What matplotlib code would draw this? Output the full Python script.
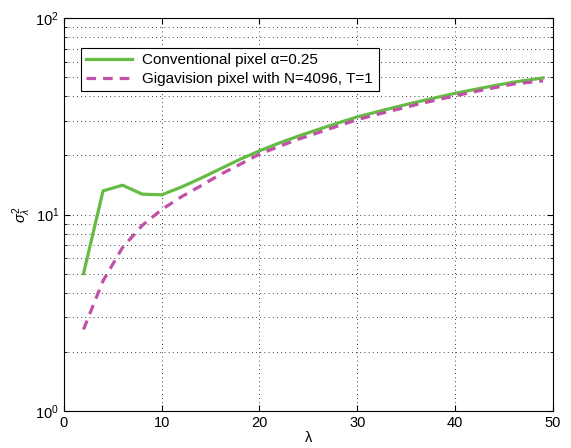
import matplotlib

matplotlib.use("Agg")
import matplotlib.pyplot as plt

plt.rcParams["font.family"] = ["Liberation Sans", "DejaVu Sans"]
plt.rcParams["mathtext.fontset"] = "custom"
plt.rcParams["mathtext.rm"] = "Liberation Sans"
plt.rcParams["mathtext.it"] = "Liberation Sans:italic"

lam = [2, 4, 6, 8, 10, 12, 14, 16, 18, 20, 22, 24, 26, 28, 30, 32, 34, 36, 38, 40, 42, 44, 46, 49]
conventional = [5.0, 13.2, 14.1, 12.7, 12.6, 13.8, 15.3, 17.1, 19.1, 21.1, 23.1, 25.1,
                27.1, 29.2, 31.4, 33.3, 35.3, 37.3, 39.3, 41.4, 43.3, 45.3, 47.2, 49.6]
gigavision = [2.6, 4.6, 6.8, 8.8, 10.6, 12.3, 14.0, 16.0, 18.0, 20.3, 22.2, 24.2,
              26.1, 28.2, 30.4, 32.3, 34.2, 36.2, 38.2, 40.2, 42.2, 44.2, 46.2, 47.9]

fig = plt.figure(figsize=(5.71, 4.48), dpi=100)
ax = fig.add_axes([0.112, 0.0826, 0.856, 0.877])

ax.plot(lam, conventional, color="#66bb44", lw=2.3, label="Conventional pixel α=0.25")
ax.plot(lam, gigavision, color="#c050a8", lw=2.3, ls=(0, (3, 2.2)),
        label="Gigavision pixel with N=4096, T=1")

ax.set_yscale("log")
ax.set_xlim(0, 50)
ax.set_ylim(1, 100)
ax.set_xticks([0, 10, 20, 30, 40, 50])
ax.grid(True, which="major", color="black", ls=(0, (1, 4)), lw=0.6)
ax.grid(True, which="minor", axis="y", color="black", ls=(0, (1, 4)), lw=0.6)
ax.tick_params(which="both", direction="in", top=True, right=True, labelsize=10.5)
ax.tick_params(which="major", length=4)
ax.tick_params(which="minor", length=2)
for s in ax.spines.values():
    s.set_linewidth(0.8)

ax.set_xlabel("λ", fontsize=10.5, labelpad=1)
ax.set_ylabel(r"$\sigma^2_\lambda$", fontsize=10.5, labelpad=2)

leg = ax.legend(loc="upper left", bbox_to_anchor=(0.034, 0.924), borderaxespad=0,
                fancybox=False, edgecolor="black", framealpha=1, fontsize=11,
                handlelength=3.0, handletextpad=0.7, borderpad=0.35, labelspacing=0.3)
leg.get_frame().set_linewidth(0.8)

fig.savefig("out.png", dpi=100)
